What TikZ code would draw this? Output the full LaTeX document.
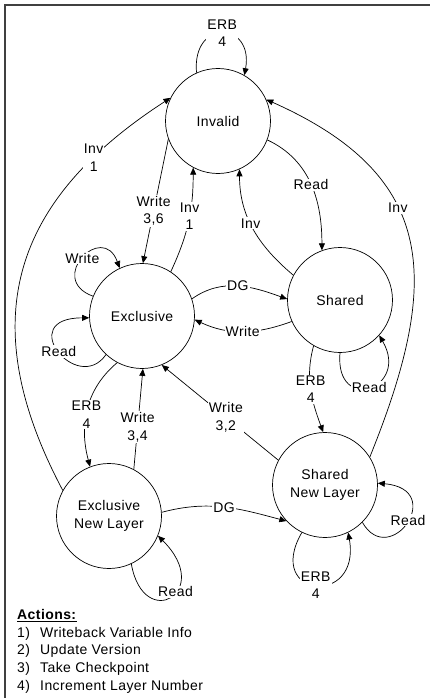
\documentclass[tikz,border=0pt]{standalone}
\usepackage{fontspec}
\setmainfont{Liberation Sans}[LetterSpace=3]
\usetikzlibrary{arrows.meta}
\begin{document}
\begin{tikzpicture}[
    x=1pt, y=1pt,
    font=\fontsize{14}{17.5}\selectfont,
    state/.style={circle, draw, line width=0.7pt, minimum size=105pt, inner sep=0pt, align=center},
    lbl/.style={fill=white, inner sep=1pt, align=center},
    edge/.style={line width=0.7pt, -{Triangle[length=7pt,width=6pt]}}
]
\useasboundingbox (0,0) rectangle (430,-698);
\draw[line width=1.5pt, black!75] (430,-5) -- (5,-5) -- (5,-698);
\node[state] (inv) at (218,-121) {Invalid};
\node[state] (exc) at (142,-316) {Exclusive};
\node[state] (shr) at (340,-300) {Shared};
\node[state] (enl) at (109,-516) {Exclusive\\New Layer};
\node[state] (snl) at (325,-485) {Shared\\New Layer};
\draw[edge] (inv.114) .. controls +(95:55) and +(80:55) .. node[lbl]{ERB\\4} (inv.60);
\draw[edge] (enl.151) .. controls +(118:205) and +(213:175) .. node[lbl,pos=0.8]{Inv\\1} (inv.154);
\draw[edge] (inv.200) -- node[lbl,pos=0.58]{Write\\3,6} (exc.89);
\draw[edge] (exc.57) to[out=65,in=-90] node[lbl,pos=0.55]{Inv\\1} (inv.242);
\draw[edge] (shr.152) to[out=140,in=-90] node[lbl,pos=0.55]{Inv} (inv.294);
\draw[edge] (inv.339) to[out=-25,in=90] node[lbl]{Read} (shr.110);
\draw[edge] (snl.32) to[out=68,in=-24,looseness=1.3] node[lbl,pos=0.6]{Inv} (inv.24);
\draw[edge] (exc.158) .. controls +(160:50) and +(110:50) .. node[lbl]{Write} (exc.115);
\draw[edge] (exc.227) .. controls +(235:50) and +(180:75) .. node[lbl]{Read} (exc.182);
\draw[edge] (exc.19) to[out=35,in=160] node[lbl]{DG} (shr.179);
\draw[edge] (shr.204) to[out=200,in=-25] node[lbl]{Write} (exc.-4);
\draw[edge] (shr.270) .. controls +(265:62) and +(300:62) .. node[lbl]{Read} (shr.318);
\draw[edge] (shr.240) to[out=255,in=110] node[lbl]{ERB\\4} (snl.92);
\draw[edge] (snl.152) -- node[lbl,pos=0.45]{Write\\3,2} (exc.292);
\draw[edge] (exc.242) to[out=220,in=105] node[lbl,pos=0.55]{ERB\\4} (enl.111);
\draw[edge] (enl.62) -- node[lbl,pos=0.42]{Write\\3,4} (exc.271);
\draw[edge] (enl.4) to[out=15,in=165] node[lbl]{DG} (snl.223);
\draw[edge] (enl.295) .. controls +(280:70) and +(-45:80) .. node[lbl,pos=0.58]{Read} (enl.338);
\draw[edge] (snl.315) .. controls +(300:55) and +(-5:70) .. node[lbl,pos=0.53]{Read} (snl.2);
\draw[edge] (snl.244) .. controls +(240:76) and +(280:76) .. node[lbl]{ERB\\4} (snl.296);
\node[anchor=north west, align=left, inner sep=0pt, font=\fontsize{14}{17.7}\selectfont] (actions) at (17,-609) {%
\underline{\textbf{Actions:}}\\
\makebox[23pt][l]{1)}Writeback Variable Info\\
\makebox[23pt][l]{2)}Update Version\\
\makebox[23pt][l]{3)}Take Checkpoint\\
\makebox[23pt][l]{4)}Increment Layer Number};
\end{tikzpicture}
\end{document}
